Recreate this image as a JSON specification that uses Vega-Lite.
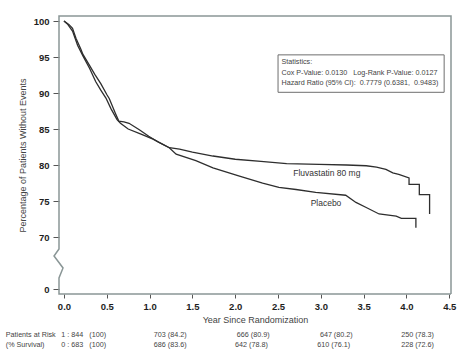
{
  "$schema": "https://vega.github.io/schema/vega-lite/v6.json",
  "padding": {"left": 5, "top": 13, "right": 6, "bottom": 4},
  "background": "white",
  "spacing": 5,
  "config": {"view": {"stroke": null}, "font": "Liberation Sans"},
  "datasets": {
    "frame": [
      {"i": 1, "t": 4.52, "v": -6.7},
      {"i": 2, "t": -0.058, "v": -6.7},
      {"i": 3, "t": -0.058, "v": 14.8},
      {"i": 4, "t": -0.011, "v": 28.3},
      {"i": 5, "t": -0.116, "v": 44.4},
      {"i": 6, "t": -0.058, "v": 53.8},
      {"i": 7, "t": -0.058, "v": 100.7},
      {"i": 8, "t": 4.52, "v": 100.7},
      {"i": 9, "t": 4.52, "v": -6.7}
    ],
    "km": [
      {"g": "Fluvastatin", "i": 1, "t": 0, "v": 100},
      {"g": "Fluvastatin", "i": 2, "t": 0.04, "v": 99.6},
      {"g": "Fluvastatin", "i": 3, "t": 0.1, "v": 98.6},
      {"g": "Fluvastatin", "i": 4, "t": 0.16, "v": 96.6},
      {"g": "Fluvastatin", "i": 5, "t": 0.22, "v": 95.2},
      {"g": "Fluvastatin", "i": 6, "t": 0.3, "v": 93.4},
      {"g": "Fluvastatin", "i": 7, "t": 0.37, "v": 91.6},
      {"g": "Fluvastatin", "i": 8, "t": 0.43, "v": 90.4},
      {"g": "Fluvastatin", "i": 9, "t": 0.49, "v": 89.3},
      {"g": "Fluvastatin", "i": 10, "t": 0.55, "v": 87.8},
      {"g": "Fluvastatin", "i": 11, "t": 0.62, "v": 86.3},
      {"g": "Fluvastatin", "i": 12, "t": 0.66, "v": 85.8},
      {"g": "Fluvastatin", "i": 13, "t": 0.75, "v": 85.0},
      {"g": "Fluvastatin", "i": 14, "t": 0.9, "v": 84.3},
      {"g": "Fluvastatin", "i": 15, "t": 1.04, "v": 83.6},
      {"g": "Fluvastatin", "i": 16, "t": 1.15, "v": 82.9},
      {"g": "Fluvastatin", "i": 17, "t": 1.23, "v": 82.4},
      {"g": "Fluvastatin", "i": 18, "t": 1.35, "v": 82.2},
      {"g": "Fluvastatin", "i": 19, "t": 1.5, "v": 81.8},
      {"g": "Fluvastatin", "i": 20, "t": 1.74, "v": 81.25},
      {"g": "Fluvastatin", "i": 21, "t": 2.0, "v": 80.8},
      {"g": "Fluvastatin", "i": 22, "t": 2.3, "v": 80.5},
      {"g": "Fluvastatin", "i": 23, "t": 2.6, "v": 80.2},
      {"g": "Fluvastatin", "i": 24, "t": 2.98, "v": 80.1},
      {"g": "Fluvastatin", "i": 25, "t": 3.3, "v": 80.0},
      {"g": "Fluvastatin", "i": 26, "t": 3.53, "v": 79.9},
      {"g": "Fluvastatin", "i": 27, "t": 3.65, "v": 79.7},
      {"g": "Fluvastatin", "i": 28, "t": 3.76, "v": 79.4},
      {"g": "Fluvastatin", "i": 29, "t": 3.84, "v": 78.9},
      {"g": "Fluvastatin", "i": 30, "t": 3.91, "v": 78.7},
      {"g": "Fluvastatin", "i": 31, "t": 4.03, "v": 78.2},
      {"g": "Fluvastatin", "i": 32, "t": 4.03, "v": 77.3},
      {"g": "Fluvastatin", "i": 33, "t": 4.15, "v": 77.3},
      {"g": "Fluvastatin", "i": 34, "t": 4.15, "v": 75.9},
      {"g": "Fluvastatin", "i": 35, "t": 4.27, "v": 75.9},
      {"g": "Fluvastatin", "i": 36, "t": 4.27, "v": 73.2},
      {"g": "Placebo", "i": 1, "t": 0, "v": 100},
      {"g": "Placebo", "i": 2, "t": 0.06, "v": 99.5},
      {"g": "Placebo", "i": 3, "t": 0.1, "v": 99.0},
      {"g": "Placebo", "i": 4, "t": 0.14, "v": 97.6},
      {"g": "Placebo", "i": 5, "t": 0.2, "v": 96.0},
      {"g": "Placebo", "i": 6, "t": 0.22, "v": 95.4},
      {"g": "Placebo", "i": 7, "t": 0.3, "v": 93.8},
      {"g": "Placebo", "i": 8, "t": 0.36, "v": 92.6},
      {"g": "Placebo", "i": 9, "t": 0.43, "v": 91.3},
      {"g": "Placebo", "i": 10, "t": 0.5, "v": 89.8},
      {"g": "Placebo", "i": 11, "t": 0.53, "v": 89.2},
      {"g": "Placebo", "i": 12, "t": 0.6, "v": 87.2},
      {"g": "Placebo", "i": 13, "t": 0.64, "v": 86.1},
      {"g": "Placebo", "i": 14, "t": 0.7, "v": 86.0},
      {"g": "Placebo", "i": 15, "t": 0.76, "v": 85.8},
      {"g": "Placebo", "i": 16, "t": 0.88, "v": 84.9},
      {"g": "Placebo", "i": 17, "t": 0.99, "v": 84.0},
      {"g": "Placebo", "i": 18, "t": 1.1, "v": 83.2},
      {"g": "Placebo", "i": 19, "t": 1.23, "v": 82.4},
      {"g": "Placebo", "i": 20, "t": 1.31, "v": 81.5},
      {"g": "Placebo", "i": 21, "t": 1.54, "v": 80.6},
      {"g": "Placebo", "i": 22, "t": 1.74, "v": 79.6},
      {"g": "Placebo", "i": 23, "t": 2.04, "v": 78.5},
      {"g": "Placebo", "i": 24, "t": 2.32, "v": 77.5},
      {"g": "Placebo", "i": 25, "t": 2.51, "v": 76.9},
      {"g": "Placebo", "i": 26, "t": 2.71, "v": 76.6},
      {"g": "Placebo", "i": 27, "t": 2.94, "v": 76.2},
      {"g": "Placebo", "i": 28, "t": 3.29, "v": 75.8},
      {"g": "Placebo", "i": 29, "t": 3.41, "v": 74.8},
      {"g": "Placebo", "i": 30, "t": 3.53, "v": 74.1},
      {"g": "Placebo", "i": 31, "t": 3.68, "v": 73.2},
      {"g": "Placebo", "i": 32, "t": 3.88, "v": 72.9},
      {"g": "Placebo", "i": 33, "t": 3.94, "v": 72.6},
      {"g": "Placebo", "i": 34, "t": 4.11, "v": 72.6},
      {"g": "Placebo", "i": 35, "t": 4.11, "v": 71.3}
    ],
    "curveLabels": [
      {"label": "Fluvastatin 80 mg", "t": 3.07, "v": 78.9},
      {"label": "Placebo", "t": 3.06, "v": 74.7}
    ],
    "box": [{"t": 2.5, "t2": 4.44, "v": 90.1, "v2": 95.3}],
    "stats": [
      {"line": "Statistics:", "t": 2.54, "v": 94.3},
      {"line": "Cox P-Value: 0.0130\u00a0\u00a0 Log-Rank P-Value: 0.0127", "t": 2.54, "v": 92.85},
      {"line": "Hazard Ratio (95% CI):\u00a0 0.7779 (0.6381,\u00a0 0.9483)", "t": 2.54, "v": 91.4}
    ],
    "riskTitles": [
      {"arm": "Fluvastatin", "t": -0.68, "label": "Patients at Risk"},
      {"arm": "Placebo", "t": -0.68, "label": "(% Survival)"}
    ],
    "risk": [
      {"arm": "Fluvastatin", "t": 0.23, "label": "1 : 844\u00a0\u00a0 (100)"},
      {"arm": "Fluvastatin", "t": 1.24, "label": "703 (84.2)"},
      {"arm": "Fluvastatin", "t": 2.21, "label": "666 (80.9)"},
      {"arm": "Fluvastatin", "t": 3.18, "label": "647 (80.2)"},
      {"arm": "Fluvastatin", "t": 4.13, "label": "250 (78.3)"},
      {"arm": "Placebo", "t": 0.23, "label": "0 : 683\u00a0\u00a0 (100)"},
      {"arm": "Placebo", "t": 1.24, "label": "686 (83.6)"},
      {"arm": "Placebo", "t": 2.19, "label": "642 (78.8)"},
      {"arm": "Placebo", "t": 3.15, "label": "610 (76.1)"},
      {"arm": "Placebo", "t": 4.13, "label": "228 (72.6)"}
    ]
  },
  "vconcat": [
    {
      "width": 392,
      "height": 278,
      "encoding": {
        "x": {
          "field": "t", "type": "quantitative",
          "scale": {"domain": [-0.058, 4.52], "nice": false, "zero": false},
          "axis": {
            "values": [0, 0.5, 1, 1.5, 2, 2.5, 3, 3.5, 4, 4.5],
            "format": ".1f",
            "title": "Year Since Randomization",
            "domain": false, "grid": false,
            "tickSize": 4, "tickColor": "#555", "tickWidth": 1,
            "labelFont": "Liberation Sans", "labelFontWeight": "bold",
            "labelFontSize": 9.5, "labelColor": "#1e1e1e", "labelPadding": 3,
            "titleFont": "Liberation Sans", "titleFontWeight": "normal",
            "titleFontSize": 9, "titleColor": "#444", "titlePadding": 5
          }
        },
        "y": {
          "field": "v", "type": "quantitative",
          "scale": {"domain": [-6.7, 0, 70, 100.7], "range": [278, 273, 221, 0], "nice": false, "zero": false},
          "axis": {
            "values": [0, 70, 75, 80, 85, 90, 95, 100],
            "title": "Percentage of Patients Without Events",
            "domain": false, "grid": false,
            "tickSize": 6, "tickColor": "#555", "tickWidth": 1,
            "labelFont": "Liberation Sans", "labelFontWeight": "bold",
            "labelFontSize": 9.5, "labelColor": "#1e1e1e", "labelPadding": 4,
            "titleFont": "Liberation Sans", "titleFontWeight": "normal",
            "titleFontSize": 9, "titleColor": "#444", "titlePadding": 6
          }
        }
      },
      "layer": [
        {
          "data": {"name": "frame"},
          "mark": {"type": "line", "color": "#8a9696", "strokeWidth": 1.5, "strokeJoin": "miter"},
          "encoding": {"order": {"field": "i", "type": "quantitative"}}
        },
        {
          "data": {"name": "box"},
          "mark": {"type": "rect", "fill": "white", "stroke": "#6e6e6e", "strokeWidth": 1},
          "encoding": {"x2": {"field": "t2"}, "y2": {"field": "v2"}}
        },
        {
          "data": {"name": "km"},
          "mark": {"type": "line", "color": "#2e2e2e", "strokeWidth": 1.3},
          "encoding": {
            "detail": {"field": "g", "type": "nominal"},
            "order": {"field": "i", "type": "quantitative"}
          }
        },
        {
          "data": {"name": "curveLabels"},
          "mark": {"type": "text", "font": "Liberation Sans", "fontSize": 8.5, "color": "#333", "align": "center", "baseline": "middle"},
          "encoding": {"text": {"field": "label"}}
        },
        {
          "data": {"name": "stats"},
          "mark": {"type": "text", "font": "Liberation Sans", "fontSize": 7.2, "color": "#444", "align": "left", "baseline": "middle"},
          "encoding": {"text": {"field": "line"}}
        }
      ]
    },
    {
      "width": 392,
      "height": 20,
      "encoding": {
        "x": {"field": "t", "type": "quantitative", "scale": {"domain": [-0.058, 4.52], "nice": false, "zero": false}, "axis": null},
        "y": {"field": "arm", "type": "nominal", "scale": {"domain": ["Fluvastatin", "Placebo"], "paddingInner": 0, "paddingOuter": 0}, "axis": null},
        "text": {"field": "label"}
      },
      "layer": [
        {
          "data": {"name": "riskTitles"},
          "mark": {"type": "text", "font": "Liberation Sans", "fontSize": 7.2, "color": "#444", "align": "left", "baseline": "middle"}
        },
        {
          "data": {"name": "risk"},
          "mark": {"type": "text", "font": "Liberation Sans", "fontSize": 7.2, "color": "#444", "align": "center", "baseline": "middle"}
        }
      ]
    }
  ]
}
